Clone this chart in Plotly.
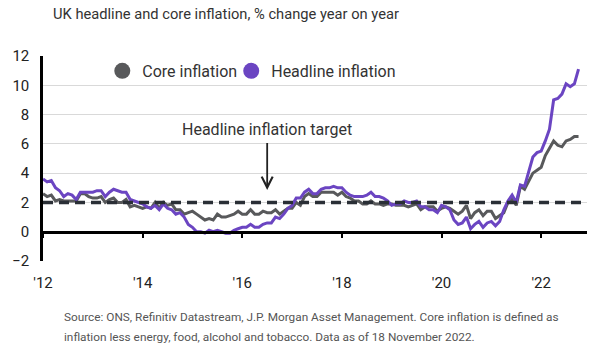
import plotly.graph_objects as go

# ---------------- data ----------------
start_year = 2012
headline = [
    3.6, 3.4, 3.5, 3.0, 2.8, 2.4, 2.6, 2.5, 2.2, 2.7, 2.7, 2.7,   # 2012
    2.7, 2.8, 2.8, 2.4, 2.7, 2.9, 2.8, 2.7, 2.7, 2.2, 2.1, 2.0,   # 2013
    1.9, 1.7, 1.6, 1.8, 1.5, 1.9, 1.6, 1.5, 1.2, 1.3, 1.0, 0.5,   # 2014
    0.3, 0.0, 0.0, -0.1, 0.1, 0.0, 0.1, 0.0, -0.1, -0.1, 0.1, 0.2, # 2015
    0.3, 0.3, 0.5, 0.3, 0.3, 0.5, 0.6, 0.6, 1.0, 0.9, 1.2, 1.6,   # 2016
    1.8, 2.3, 2.3, 2.7, 2.9, 2.6, 2.6, 2.9, 3.0, 3.0, 3.1, 3.0,   # 2017
    3.0, 2.7, 2.5, 2.4, 2.4, 2.4, 2.5, 2.7, 2.4, 2.4, 2.3, 2.1,   # 2018
    1.8, 1.9, 1.9, 2.1, 2.0, 2.0, 2.1, 1.7, 1.7, 1.5, 1.5, 1.3,   # 2019
    1.8, 1.7, 1.5, 0.8, 0.5, 0.6, 1.0, 0.2, 0.5, 0.7, 0.3, 0.6,   # 2020
    0.7, 0.4, 0.7, 1.5, 2.1, 2.5, 2.0, 3.2, 3.1, 4.2, 5.1, 5.4,   # 2021
    5.5, 6.2, 7.0, 9.0, 9.1, 9.4, 10.1, 9.9, 10.1, 11.1,          # 2022
]
core = [
    2.6, 2.4, 2.5, 2.1, 2.2, 2.1, 2.1, 2.1, 2.1, 2.6, 2.6, 2.4,   # 2012
    2.3, 2.3, 2.4, 2.0, 2.2, 2.3, 2.0, 2.0, 2.2, 1.7, 1.8, 1.7,   # 2013
    1.6, 1.7, 1.6, 2.0, 1.6, 2.0, 1.8, 1.9, 1.5, 1.5, 1.2, 1.3,   # 2014
    1.4, 1.2, 1.0, 0.8, 0.9, 0.8, 1.2, 1.0, 1.0, 1.1, 1.2, 1.4,   # 2015
    1.2, 1.2, 1.5, 1.2, 1.2, 1.4, 1.3, 1.3, 1.5, 1.2, 1.4, 1.6,   # 2016
    1.6, 2.0, 1.8, 2.4, 2.6, 2.4, 2.4, 2.7, 2.7, 2.7, 2.7, 2.5,   # 2017
    2.7, 2.4, 2.3, 2.1, 2.1, 1.9, 1.9, 2.1, 1.9, 1.9, 1.8, 1.9,   # 2018
    1.9, 1.8, 1.8, 1.8, 1.7, 1.8, 1.9, 1.5, 1.7, 1.7, 1.7, 1.4,   # 2019
    1.6, 1.7, 1.6, 1.4, 1.2, 1.4, 1.8, 0.9, 1.3, 1.5, 1.1, 1.4,   # 2020
    1.4, 0.9, 1.1, 1.3, 2.0, 2.3, 1.8, 3.1, 2.9, 3.4, 4.0, 4.2,   # 2021
    4.4, 5.2, 5.7, 6.2, 5.9, 5.8, 6.2, 6.3, 6.5, 6.5,             # 2022
]
target = 2.0
tick_years = [2012, 2014, 2016, 2018, 2020, 2022]
tick_text = ["'12", "'14", "'16", "'18", "'20", "'22"]
y_ticks = [-2, 0, 2, 4, 6, 8, 10, 12]
series_names = ["Core inflation", "Headline inflation"]

months = [start_year + i / 12 for i in range(len(headline))]

# ---------------- style ----------------
FONT = "Roboto"
C_CORE = "#58595b"
C_HEAD = "#6b45c2"
C_TARGET = "#2a2f36"
X_RANGE = [2012, 2022.92]
Y_RANGE = [-2, 12]

fig = go.Figure()
fig.add_trace(go.Scatter(x=months, y=core, mode="lines", name=series_names[0],
                         line=dict(color=C_CORE, width=3), showlegend=False,
                         hoverinfo="skip"))
fig.add_trace(go.Scatter(x=months, y=headline, mode="lines", name=series_names[1],
                         line=dict(color=C_HEAD, width=3), showlegend=False,
                         hoverinfo="skip"))
# legend entries (circle markers), each in its own legend box
for nm, col, lg in zip(series_names, [C_CORE, C_HEAD], ["legend", "legend2"]):
    fig.add_trace(go.Scatter(x=[None], y=[None], mode="markers", name=nm,
                             marker=dict(size=16, color=col), xaxis="x2",
                             showlegend=True, legend=lg))

# target line
fig.add_shape(type="line", xref="paper", x0=0, x1=1, yref="y", y0=target, y1=target,
              line=dict(color=C_TARGET, width=3.5, dash="10px,6px"), layer="above")

zero_pos = (0 - Y_RANGE[0]) / (Y_RANGE[1] - Y_RANGE[0])

legend_common = dict(orientation="h", xanchor="left", y=0.927, yanchor="middle",
                     itemsizing="trace", bgcolor="rgba(0,0,0,0)",
                     font=dict(family=FONT, size=16, color="#333"))

fig.update_layout(
    width=600, height=352,
    margin=dict(l=43, r=13, t=56, b=91, autoexpand=False),
    paper_bgcolor="white", plot_bgcolor="white",
    font=dict(family=FONT, color="#222"),
    title=dict(text="UK headline and core inflation, % change year on year",
               xref="container", x=53 / 600, xanchor="left",
               yref="container", y=1 - 14 / 352, yanchor="middle",
               font=dict(family=FONT, size=14.7, color="#333")),
    xaxis=dict(range=X_RANGE, tickvals=tick_years, ticktext=tick_text,
               showgrid=False, zeroline=False, showline=False, ticks="",
               tickfont=dict(family=FONT, size=15, color="#222"),
               ticklabelstandoff=11),
    xaxis2=dict(range=X_RANGE, overlaying="x", anchor="free", position=zero_pos,
                tickvals=tick_years, showticklabels=False, showgrid=False,
                zeroline=False, showline=True, linecolor="black", linewidth=2.5,
                ticks="outside", ticklen=5, tickwidth=2, tickcolor="black"),
    yaxis=dict(range=Y_RANGE, tickvals=y_ticks, showgrid=True, gridcolor="#d9d9d9",
               gridwidth=1, zeroline=False, showline=True, linecolor="black",
               linewidth=2.5, ticks="", ticklabelstandoff=8,
               tickfont=dict(family=FONT, size=15, color="#222")),
    legend=dict(x=0.109, **legend_common),
    legend2=dict(x=0.346, **legend_common),
    showlegend=True,
)

fig.add_annotation(text="Headline inflation target", x=2016.5, y=2.85, xref="x", yref="y",
                   showarrow=True, ax=0, ay=-60, axref="pixel", ayref="pixel",
                   arrowhead=5, arrowwidth=1.8, arrowsize=1.2, arrowcolor="#222",
                   startstandoff=2,
                   font=dict(family=FONT, size=16, color="#333"))

foot1 = "Source: ONS, Refinitiv Datastream, J.P. Morgan Asset Management. Core inflation is defined as"
foot2 = "inflation less energy, food, alcohol and tobacco. Data as of 18 November 2022."
for txt, py in [(foot1, 317), (foot2, 337)]:
    fig.add_annotation(text=txt, xref="paper", yref="paper",
                       x=(62 - 43) / 544, xanchor="left",
                       y=(261 - py) / 205, yanchor="middle", showarrow=False,
                       font=dict(family=FONT, size=11.8, color="#555"))

fig.write_html("out.html")
